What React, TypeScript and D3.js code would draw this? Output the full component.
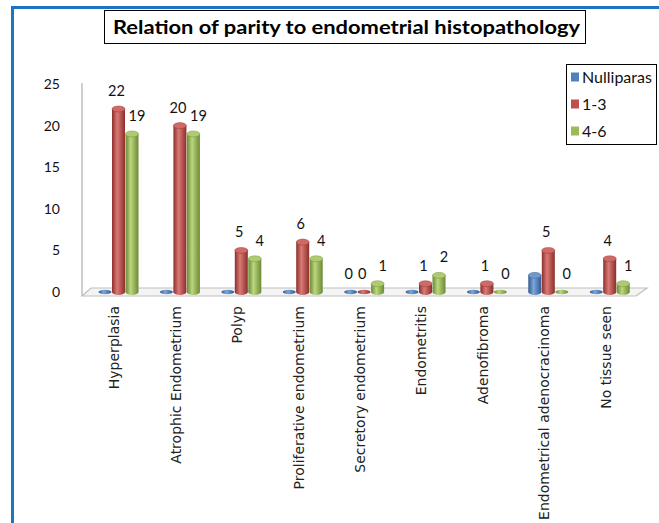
import React from "react";
import * as d3 from "d3";

const categories = [
  "Hyperplasia",
  "Atrophic Endometrium",
  "Polyp",
  "Proliferative endometrium",
  "Secretory endometrium",
  "Endometritis",
  "Adenofibroma",
  "Endometrical adenocracinoma",
  "No tissue seen",
];
const seriesNames = ["Nulliparas", "1-3", "4-6"];
const nulliparas = [0, 0, 0, 0, 0, 0, 0, 2, 0];
const parity13 = [22, 20, 5, 6, 0, 1, 1, 5, 4];
const parity46 = [19, 19, 4, 4, 1, 2, 0, 0, 1];
// which data labels are shown for each series
const showNulliparas = [false, false, false, false, true, false, false, false, false];
const showParity13 = [true, true, true, true, true, true, true, true, true];
const showParity46 = [true, true, true, true, true, true, true, true, true];
const yTicks = [0, 5, 10, 15, 20, 25];
const title = "Relation of parity to endometrial histopathology";

const colors = [
  { base: "#4F81BD", dark: "#2E5A8E", light: "#7EA6D8", top: "#6F98CC" },
  { base: "#C0504D", dark: "#8C2E2B", light: "#DA7A77", top: "#D06A67" },
  { base: "#9BBB59", dark: "#6B8A33", light: "#BBD77F", top: "#AECB70" },
];
const labelShift = [-2, -2, 5];

export default function App() {
  const W = 659;
  const H = 523;
  const x0 = d3.scaleBand<string>().domain(categories).range([87.8, 640.4]).paddingInner(0).paddingOuter(0);
  const x1 = d3.scaleBand<string>().domain(seriesNames).range([-20.25, 20.25]);
  const y = d3.scaleLinear().domain([0, 25]).range([292, 84]);
  const series = [nulliparas, parity13, parity46];
  const shows = [showNulliparas, showParity13, showParity46];
  const bw = 13;
  const ry = 3;

  return (
    <svg width={W} height={H} style={{ display: "block", position: "absolute", left: 0, top: 0 }}>
      <defs>
        {colors.map((c, i) => (
          <linearGradient key={i} id={`g${i}`} x1="0" x2="1" y1="0" y2="0">
            <stop offset="0" stopColor={c.dark} />
            <stop offset="0.4" stopColor={c.light} />
            <stop offset="1" stopColor={c.dark} />
          </linearGradient>
        ))}
      </defs>
      <rect x={0} y={0} width={W} height={H} fill="#fff" />
      {/* blue frame */}
      <line x1={12} x2={W} y1={7.5} y2={7.5} stroke="#1B75C4" strokeWidth={3} />
      <line x1={12.5} x2={12.5} y1={6} y2={H} stroke="#1B75C4" strokeWidth={3} />

      {/* title */}
      <rect x={104.5} y={10.5} width={481} height={33} fill="#fff" stroke="#000" strokeWidth={1} />
      <text x={113} y={34} fontFamily="Lato, 'Open Sans', sans-serif" fontWeight={700} fontSize={19.5}
        textLength={467} lengthAdjust="spacingAndGlyphs" fill="#000">{title}</text>

      {/* wall + floor */}
      <line x1={82} x2={82} y1={83} y2={296} stroke="#BFBFBF" strokeWidth={1.5} />
      <polygon points="82,296 91,288 647,288 636,296" fill="#F4F4F4" stroke="#BFBFBF" strokeWidth={1.2} />

      {/* y ticks */}
      {yTicks.map((t) => (
        <text key={t} x={60} y={y(t)} dy="0.35em" textAnchor="end"
          fontFamily="Lato, 'Open Sans', sans-serif" fontSize={14} fill="#111">{t}</text>
      ))}

      {/* bars */}
      {categories.map((cat, ci) => {
        const cx0 = (x0(cat) as number) + x0.bandwidth() / 2;
        return (
          <g key={cat}>
            {seriesNames.map((s, si) => {
              const v = series[si][ci];
              const cx = cx0 + (x1(s) as number) + x1.bandwidth() / 2;
              const yt = y(v);
              const yb = y(0);
              const c = colors[si];
              if (v === 0) {
                return (
                  <ellipse key={s} cx={cx} cy={yb} rx={bw / 2} ry={2.2} fill={`url(#g${si})`} />
                );
              }
              return (
                <g key={s}>
                  <ellipse cx={cx} cy={yb} rx={bw / 2} ry={ry} fill={`url(#g${si})`} />
                  <rect x={cx - bw / 2} y={yt} width={bw} height={yb - yt} fill={`url(#g${si})`} />
                  <ellipse cx={cx} cy={yt} rx={bw / 2} ry={ry} fill={c.top} stroke={c.dark} strokeWidth={0.4} />
                </g>
              );
            })}
            {seriesNames.map((s, si) => {
              if (!shows[si][ci]) return null;
              const v = series[si][ci];
              const cx = cx0 + (x1(s) as number) + x1.bandwidth() / 2;
              return (
                <text key={"l" + s} x={cx + labelShift[si]} y={y(v) - 13} textAnchor="middle"
                  fontFamily="Lato, 'Open Sans', sans-serif" fontSize={14.5} fill="#111">{v}</text>
              );
            })}
            <text transform={`translate(${cx0 - 4},306) rotate(-90)`} dy="0.35em" textAnchor="end"
              fontFamily="'DejaVu Sans', Verdana, sans-serif" fontSize={14} fill="#222">{cat}</text>
          </g>
        );
      })}

      {/* legend */}
      <rect x={566.5} y={64.5} width={90} height={80} fill="#fff" stroke="#000" strokeWidth={1} />
      {seriesNames.map((s, si) => {
        const ly = 77 + si * 27;
        return (
          <g key={s}>
            <rect x={571} y={ly - 4.5} width={8} height={9} fill={colors[si].base} />
            <text x={582} y={ly} dy="0.35em" fontFamily="Lato, 'Open Sans', sans-serif" fontSize={16} fill="#111">{s}</text>
          </g>
        );
      })}
    </svg>
  );
}
